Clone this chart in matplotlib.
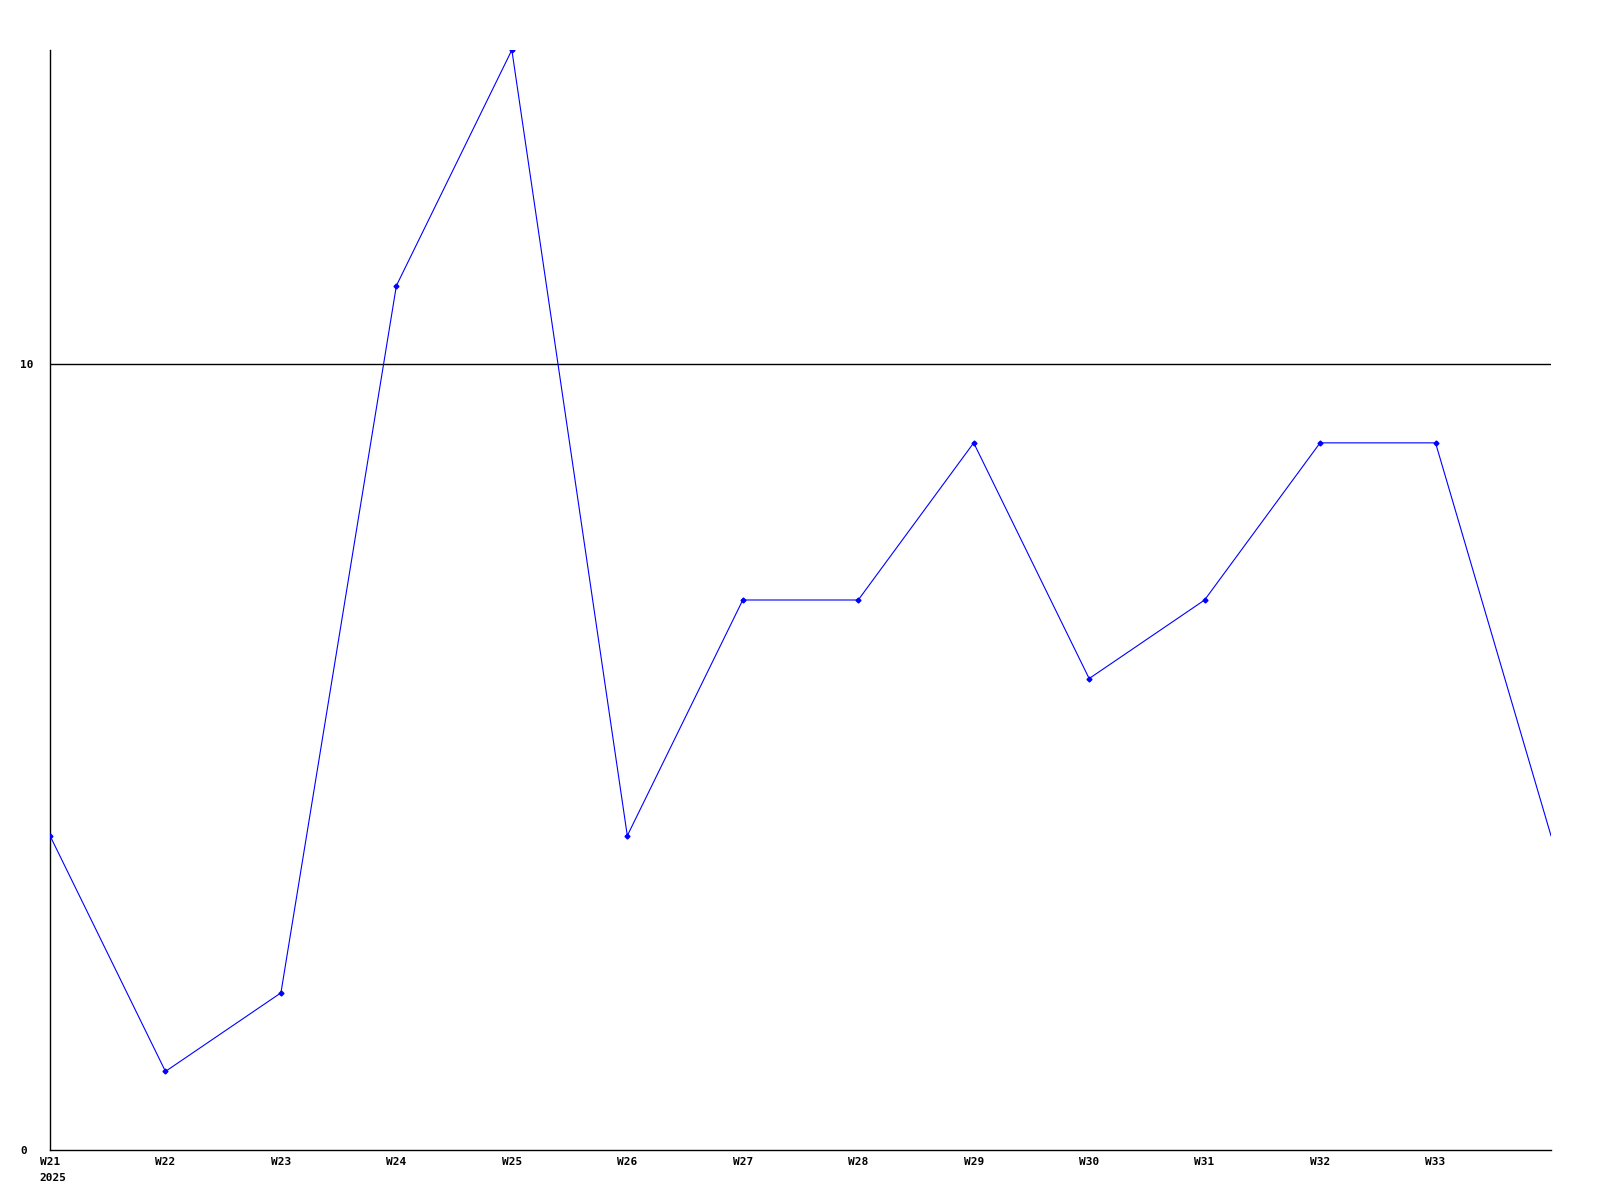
import matplotlib
matplotlib.use("Agg")
import matplotlib.pyplot as plt

weeks = ["W21", "W22", "W23", "W24", "W25", "W26", "W27", "W28", "W29", "W30", "W31", "W32", "W33", ""]
values = [4, 1, 2, 11, 14, 4, 7, 7, 9, 6, 7, 9, 9, 4]
year = "2025"
y_ticks = [0, 10]

fig = plt.figure(figsize=(16, 12), dpi=100)
ax = fig.add_axes([50 / 1600, 50 / 1200, 1501 / 1600, 1100 / 1200])

x = list(range(len(values)))
ax.plot(x, values, color="#0000ff", lw=0.8, marker="D", ms=2.5,
        markevery=list(range(len(values) - 1)), zorder=3)

ax.axhline(10, color="black", lw=1, zorder=2)

ax.set_xlim(0, len(values) - 1)
ax.set_ylim(0, 14)

for s in ["top", "right"]:
    ax.spines[s].set_visible(False)
for s in ["left", "bottom"]:
    ax.spines[s].set_linewidth(1)

font = dict(family="DejaVu Sans Mono", weight="bold", size=8)
ax.set_xticks(x)
ax.set_xticklabels(weeks, **font)
ax.set_yticks(y_ticks)
ax.set_yticklabels([str(v) for v in y_ticks], **font)
for lab in ax.get_yticklabels():
    lab.set_horizontalalignment("left")
ax.tick_params(axis="y", length=0, pad=21.5)
ax.tick_params(axis="x", length=0, pad=5)

ax.annotate(year, xy=(0, 0), xycoords=("data", "axes fraction"),
            xytext=(-7.5, -16.5), textcoords="offset points",
            ha="left", va="top", **font)

fig.savefig("out.png", dpi=100)
